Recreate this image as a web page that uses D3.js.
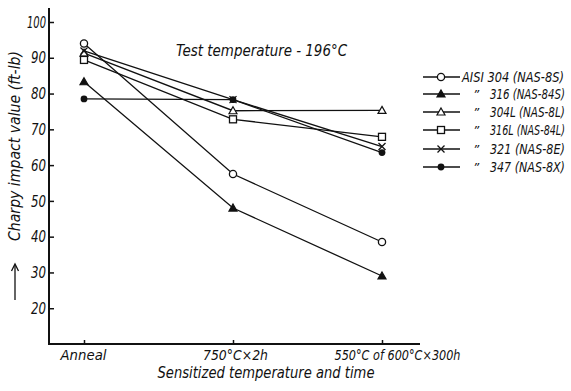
<!DOCTYPE html>
<html>
<head>
<meta charset="utf-8">
<script src="https://cdn.jsdelivr.net/npm/d3@7/dist/d3.min.js"></script>
<style>
  body { margin: 0; background: #fff; }
  text { font-family: "DejaVu Sans", sans-serif; font-style: italic; fill: #111; }
</style>
</head>
<body>
<svg id="chart" width="571" height="391"></svg>
<script>
// sensitizing treatments along the x axis
const categories = ['Anneal', '750°C×2h', '550°C of 600°C×300h'];
const yTicks = [20, 30, 40, 50, 60, 70, 80, 90, 100];

// charpy impact values (ft-lb) at -196°C
const aisi304 = [94, 57.5, 38.5];
const aisi316 = [83.3, 48, 29];
const aisi304L = [91.3, 75.2, 75.3];
const aisi316L = [89.4, 72.8, 67.9];
const aisi321 = [91.9, 78.3, 65.2];
const aisi347 = [78.5, 78.3, 63.5];

const seriesNames = ['AISI 304 (NAS-8S)', '316 (NAS-84S)', '304L (NAS-8L)', '316L (NAS-84L)', '321 (NAS-8E)', '347 (NAS-8X)'];
const series = [aisi304, aisi316, aisi304L, aisi316L, aisi321, aisi347];
const markers = ['circleOpen', 'triFilled', 'triOpen', 'squareOpen', 'cross', 'circleFilled'];

const svg = d3.select('#chart');

const x = d3.scalePoint().domain(categories).range([84, 382]);
const y = d3.scaleLinear().domain([10, 100]).range([344, 22]);

// squeeze text to the narrow hand lettering of the original
const fit = (sel, w) => sel.attr('textLength', w).attr('lengthAdjust', 'spacingAndGlyphs');

// same idea, but with a real horizontal scale so the box shrinks too
const fitScale = (g, tx, ty, w, size, str) => {
  const t = g.append('text').attr('font-size', size).text(str);
  const sx = w / t.node().getComputedTextLength();
  t.attr('transform', `translate(${tx},${ty}) scale(${sx},1)`);
  return t;
};

// axes lines
svg.append('line')
  .attr('x1', 49).attr('x2', 49).attr('y1', 8).attr('y2', 345)
  .attr('stroke', '#111').attr('stroke-width', 2);
svg.append('line')
  .attr('x1', 48).attr('x2', 420).attr('y1', 344).attr('y2', 344)
  .attr('stroke', '#111').attr('stroke-width', 2);

const yAxis = d3.axisLeft(y).tickValues(yTicks).tickSizeInner(-5).tickSizeOuter(0).tickPadding(3);
const yG = svg.append('g').attr('transform', 'translate(49,0)').call(yAxis);
yG.select('.domain').remove();
yG.selectAll('line').attr('stroke', '#111').attr('stroke-width', 1.5);
yG.selectAll('text')
  .attr('font-size', 16)
  .attr('font-family', '"DejaVu Sans", sans-serif')
  .each(function(d) { fit(d3.select(this), d >= 100 ? 19 : 15); });

const xAxis = d3.axisBottom(x).tickSizeInner(-4).tickSizeOuter(0).tickPadding(0);
const xG = svg.append('g').attr('transform', 'translate(0,344)').call(xAxis);
xG.select('.domain').remove();
xG.selectAll('line').attr('stroke', '#111').attr('stroke-width', 1.5);
const xLabelW = [46, 65, 126];
const xLabelDx = [-1, 2, 15];
xG.selectAll('text')
  .attr('font-size', 14)
  .attr('font-family', '"DejaVu Sans", sans-serif')
  .attr('y', 16).attr('dy', 0)
  .each(function(d, i) {
    d3.select(this).attr('x', xLabelDx[i]);
    fit(d3.select(this), xLabelW[i]);
  });

fit(svg.append('text')
  .attr('x', 266).attr('y', 378)
  .attr('text-anchor', 'middle')
  .attr('font-size', 15)
  .text('Sensitized temperature and time'), 217);

fit(svg.append('text')
  .attr('transform', 'translate(20,146) rotate(-90)')
  .attr('text-anchor', 'middle')
  .attr('font-size', 15)
  .text('Charpy impact value  (ft-lb)'), 190);

// the little arrow under the y label
svg.append('line')
  .attr('x1', 15).attr('x2', 15).attr('y1', 300).attr('y2', 265)
  .attr('stroke', '#111').attr('stroke-width', 1.3);
svg.append('path')
  .attr('d', 'M11.5,271 L15,264 L18.5,271')
  .attr('fill', 'none').attr('stroke', '#111').attr('stroke-width', 1.3);

fit(svg.append('text')
  .attr('x', 176).attr('y', 56)
  .attr('font-size', 15)
  .text('Test temperature - 196°C'), 171);

const drawMarker = (g, type, cx, cy) => {
  if (type === 'circleOpen') {
    g.append('circle').attr('cx', cx).attr('cy', cy).attr('r', 3.6)
      .attr('fill', '#fff').attr('stroke', '#111').attr('stroke-width', 1.3);
  } else if (type === 'circleFilled') {
    g.append('circle').attr('cx', cx).attr('cy', cy).attr('r', 3.4).attr('fill', '#111');
  } else if (type === 'triFilled' || type === 'triOpen') {
    const s = 4;
    g.append('path')
      .attr('d', `M${cx},${cy - s} L${cx + s},${cy + s * 0.75} L${cx - s},${cy + s * 0.75} Z`)
      .attr('fill', type === 'triFilled' ? '#111' : '#fff')
      .attr('stroke', '#111').attr('stroke-width', 1.2);
  } else if (type === 'squareOpen') {
    g.append('rect').attr('x', cx - 3.5).attr('y', cy - 3.5).attr('width', 7).attr('height', 7)
      .attr('fill', '#fff').attr('stroke', '#111').attr('stroke-width', 1.3);
  } else if (type === 'cross') {
    g.append('path')
      .attr('d', `M${cx - 3.5},${cy - 3.5} L${cx + 3.5},${cy + 3.5} M${cx + 3.5},${cy - 3.5} L${cx - 3.5},${cy + 3.5}`)
      .attr('stroke', '#111').attr('stroke-width', 1.3);
  }
};

const line = d3.line()
  .x((d, i) => x(categories[i]))
  .y(d => y(d));

const plot = svg.append('g');
series.forEach(vals => {
  plot.append('path')
    .datum(vals)
    .attr('d', line)
    .attr('fill', 'none')
    .attr('stroke', '#111')
    .attr('stroke-width', 1.3);
});
series.forEach((vals, k) => {
  vals.forEach((v, i) => drawMarker(plot, markers[k], x(categories[i]), y(v)));
});

// legend
const legend = svg.append('g');
const legendY = [77, 94, 112, 130, 149, 167];
seriesNames.forEach((name, k) => {
  const ly = legendY[k];
  legend.append('line')
    .attr('x1', 423).attr('x2', 460).attr('y1', ly).attr('y2', ly)
    .attr('stroke', '#111').attr('stroke-width', 1.3);
  drawMarker(legend, markers[k], 441, ly);
  if (k === 0) {
    fitScale(legend, 462, ly + 5, 102, 14, name);
  } else {
    legend.append('text').attr('x', 473).attr('y', ly + 5)
      .attr('font-size', 12).text('\u201D');
    fitScale(legend, 490, ly + 5, 75, 14, name);
  }
});
</script>
</body>
</html>
